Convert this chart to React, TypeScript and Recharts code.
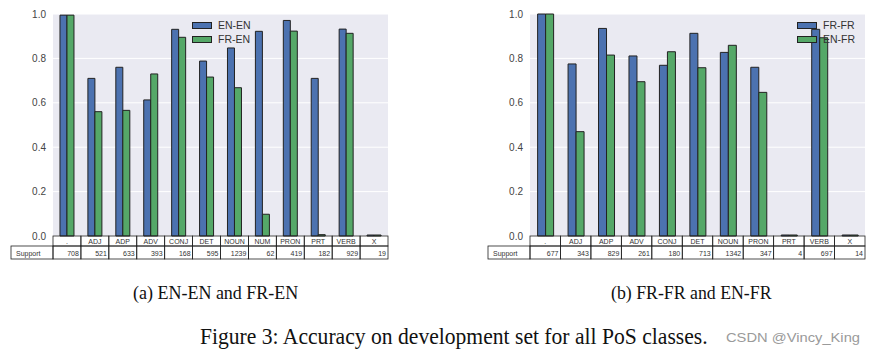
import { BarChart, Bar, XAxis, YAxis, CartesianGrid, Legend } from 'recharts';

// (a) EN-EN and FR-EN
const catsA = ['.', 'ADJ', 'ADP', 'ADV', 'CONJ', 'DET', 'NOUN', 'NUM', 'PRON', 'PRT', 'VERB', 'X'];
const enEn = [0.995, 0.71, 0.76, 0.613, 0.931, 0.788, 0.847, 0.922, 0.971, 0.71, 0.932, 0];
const frEn = [0.995, 0.56, 0.566, 0.73, 0.895, 0.716, 0.668, 0.098, 0.923, 0.006, 0.913, 0];
const supportA = [708, 521, 633, 393, 168, 595, 1239, 62, 419, 182, 929, 19];

// (b) FR-FR and EN-FR
const catsB = ['.', 'ADJ', 'ADP', 'ADV', 'CONJ', 'DET', 'NOUN', 'PRON', 'PRT', 'VERB', 'X'];
const frFr = [1.0, 0.775, 0.935, 0.811, 0.769, 0.913, 0.827, 0.76, 0, 0.931, 0];
const enFr = [1.0, 0.47, 0.815, 0.695, 0.83, 0.758, 0.859, 0.647, 0, 0.893, 0];
const supportB = [677, 343, 829, 261, 180, 713, 1342, 347, 4, 697, 14];

const yTicks = [0, 0.2, 0.4, 0.6, 0.8, 1.0];

const BLUE = '#4C72B0';
const GREEN = '#55A868';
const EDGE = '#222';
const PLOT_W = 335;

function renderLegend(props: any) {
  const items = props.payload || [];
  return (
    <div>
      {items.map((e: any) => (
        <div key={e.value} style={{ display: 'flex', alignItems: 'center', height: 14 }}>
          <span
            style={{
              width: 20,
              height: 7,
              background: e.color,
              border: `1px solid ${EDGE}`,
              boxSizing: 'border-box',
            }}
          />
          <span style={{ marginLeft: 6, fontSize: 10.5, color: '#333' }}>{e.value}</span>
        </div>
      ))}
    </div>
  );
}

// x-axis tick drawn as the two-row table under the bars
function TableTick(props: any) {
  const { x, y, payload, index, band, support } = props;
  const left = x - band / 2;
  const cellStyle = { fill: 'none', stroke: EDGE, strokeWidth: 0.8 };
  return (
    <g>
      <rect x={left} y={y} width={band} height={10} {...cellStyle} />
      <text x={x} y={y + 8} textAnchor="middle" fontSize={7} fill="#333">
        {payload.value}
      </text>
      <rect x={left} y={y + 10} width={band} height={13} {...cellStyle} />
      <text x={left + band - 2} y={y + 19.5} textAnchor="end" fontSize={7} fill="#333">
        {support[index]}
      </text>
      {index === 0 && (
        <g>
          <rect x={left - 42} y={y + 10} width={42} height={13} {...cellStyle} />
          <text x={left - 37} y={y + 19.5} fontSize={7} fill="#333">
            Support
          </text>
        </g>
      )}
    </g>
  );
}

interface PosChartProps {
  cats: string[];
  blue: number[];
  green: number[];
  support: number[];
  blueName: string;
  greenName: string;
  left: number;
  width: number;
  marginLeft: number;
  legendLeft: number;
}

function PosChart({ cats, blue, green, support, blueName, greenName, left, width, marginLeft, legendLeft }: PosChartProps) {
  const data = cats.map((c, i) => ({ cat: c, a: blue[i], b: green[i] }));
  const band = PLOT_W / cats.length;
  return (
    <div style={{ position: 'absolute', left, top: 0 }}>
      <BarChart
        width={width}
        height={262}
        data={data}
        margin={{ top: 14, right: width - marginLeft - 53 - PLOT_W - 2, bottom: 0, left: marginLeft }}
        barCategoryGap="25%"
        barGap={0}
      >
        <CartesianGrid vertical={false} stroke="#fff" strokeWidth={1} fill="#EAEAF2" fillOpacity={1} />
        <XAxis
          dataKey="cat"
          height={26}
          interval={0}
          axisLine={false}
          tickLine={false}
          tickSize={0}
          tickMargin={0}
          tick={(p: any) => <TableTick {...p} band={band} support={support} />}
        />
        <YAxis
          width={53}
          domain={[0, 1]}
          ticks={yTicks}
          axisLine={false}
          tickLine={false}
          tickSize={0}
          tickMargin={7}
          tick={{ fontSize: 10, fill: '#444' }}
          tickFormatter={(v: number) => v.toFixed(1)}
        />
        <YAxis
          yAxisId="r"
          orientation="right"
          width={2}
          domain={[0, 1]}
          ticks={yTicks}
          axisLine={false}
          tickSize={2}
          tick={false}
          tickLine={{ stroke: '#333' }}
        />
        <Legend
          layout="vertical"
          align="center"
          verticalAlign="middle"
          itemSorter="dataKey"
          content={renderLegend}
          wrapperStyle={{ top: 18, left: legendLeft, width: 'auto' }}
        />
        <Bar dataKey="a" name={blueName} fill={BLUE} stroke={EDGE} strokeWidth={1} minPointSize={1} isAnimationActive={false} />
        <Bar dataKey="b" name={greenName} fill={GREEN} stroke={EDGE} strokeWidth={1} minPointSize={1} isAnimationActive={false} />
      </BarChart>
    </div>
  );
}

export default function App() {
  const serif = '"Liberation Serif", serif';
  return (
    <div
      style={{
        position: 'absolute',
        left: 0,
        top: 0,
        width: 875,
        height: 353,
        background: '#fff',
        fontFamily: '"Liberation Sans", Arial, sans-serif',
      }}
    >
      <PosChart
        cats={catsA}
        blue={enEn}
        green={frEn}
        support={supportA}
        blueName="EN-EN"
        greenName="FR-EN"
        left={0}
        width={400}
        marginLeft={0}
        legendLeft={192}
      />
      <PosChart
        cats={catsB}
        blue={frFr}
        green={enFr}
        support={supportB}
        blueName="FR-FR"
        greenName="EN-FR"
        left={440}
        width={435}
        marginLeft={37}
        legendLeft={357}
      />
      <svg width={875} height={353} style={{ position: 'absolute', left: 0, top: 0, pointerEvents: 'none' }}>
        <text transform="translate(133,299) scale(0.95,1)" fontSize={19} fontFamily={serif} fill="#111" textLength={174} lengthAdjust="spacingAndGlyphs">
          (a) EN-EN and FR-EN
        </text>
        <text transform="translate(611,299) scale(0.95,1)" fontSize={19} fontFamily={serif} fill="#111" textLength={169} lengthAdjust="spacingAndGlyphs">
          (b) FR-FR and EN-FR
        </text>
        <text transform="translate(200,344) scale(0.94,1)" fontSize={23} fontFamily={serif} fill="#111" textLength={540} lengthAdjust="spacingAndGlyphs">
          Figure 3: Accuracy on development set for all PoS classes.
        </text>
        <text x={726} y={342} fontSize={13.5} fontFamily='"Liberation Sans", sans-serif' fill="#9a9a9a" textLength={134} lengthAdjust="spacingAndGlyphs">
          CSDN @Vincy_King
        </text>
      </svg>
    </div>
  );
}
